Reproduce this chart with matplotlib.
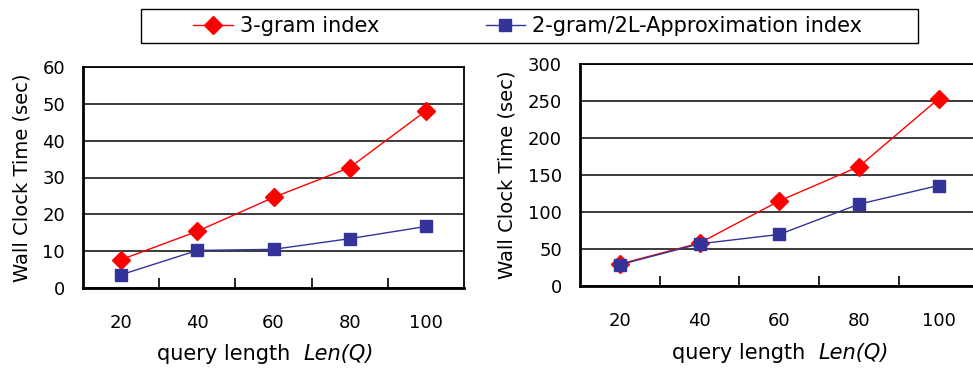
import matplotlib
matplotlib.use("Agg")
import matplotlib.pyplot as plt
import numpy as np
from matplotlib.patches import Rectangle
from matplotlib.offsetbox import TextArea, HPacker, AnchoredOffsetbox

# query lengths (categories)
categories = ["20", "40", "60", "80", "100"]

# left panel
left_3gram = [7.7, 15.4, 24.6, 32.7, 48.1]
left_2gram = [3.6, 10.2, 10.5, 13.4, 16.7]

# right panel
right_3gram = [29.7, 58.0, 115.0, 161.4, 253.0]
right_2gram = [28.8, 57.0, 69.7, 110.6, 135.8]

labels = ["3-gram index", "2-gram/2L-Approximation index"]
red = "#FF0000"
blue = "#333399"

plt.rcParams['font.family'] = ['DejaVu Sans']

W, H = 973, 371
fig = plt.figure(figsize=(W / 100, H / 100), dpi=100)

ax1 = fig.add_axes([83 / W, 1 - 288 / H, 381 / W, 221 / H])
ax2 = fig.add_axes([580 / W, 1 - 286 / H, 398.5 / W, 222 / H])

panels = [(ax1, left_3gram, left_2gram, 60, 10, 0.478),
          (ax2, right_3gram, right_2gram, 300, 50, 0.503)]

x = np.arange(len(categories))
for ax, s1, s2, ymax, step, xl in panels:
    ax.plot(x, s1, color=red, lw=1.0, marker='D', markersize=9,
            markeredgecolor=red, label=labels[0], zorder=3)
    ax.plot(x, s2, color=blue, lw=1.0, marker='s', markersize=8,
            markeredgecolor=blue, label=labels[1], zorder=3)
    ax.set_xlim(-0.5, len(categories) - 0.5)
    ax.set_ylim(0, ymax)
    ax.set_yticks(np.arange(0, ymax + 1, step))
    ax.yaxis.grid(True, color='#1a1a1a', lw=1.2)
    ax.set_axisbelow(True)
    # labels at category centres, tick marks between categories
    ax.set_xticks(x)
    ax.set_xticklabels(categories)
    ax.set_xticks(np.arange(0.5, len(categories) - 1, 1.0), minor=True)
    ax.tick_params(axis='x', which='major', length=0, pad=19, labelsize=13)
    ax.tick_params(axis='x', which='minor', length=7, width=1.2,
                   direction='in', color='black')
    ax.tick_params(axis='y', length=0, pad=13, labelsize=13)
    for sp in ax.spines.values():
        sp.set_color('black')
        sp.set_linewidth(1.3)
    ax.spines['left'].set_linewidth(2)
    ax.spines['bottom'].set_linewidth(2)
    ax.set_ylabel("Wall Clock Time (sec)", fontsize=14, labelpad=8)
    # x label with italic Len(Q)
    box = HPacker(children=[TextArea("query length  ", textprops=dict(fontsize=15)),
                            TextArea("Len(Q)", textprops=dict(fontsize=15, style='italic'))],
                  align='baseline', pad=0, sep=0)
    ab = AnchoredOffsetbox(loc='center', child=box, frameon=False,
                           bbox_to_anchor=(xl, -0.30), bbox_transform=ax.transAxes,
                           borderpad=0, pad=0)
    ax.add_artist(ab)

ax2.spines['right'].set_visible(False)

# legend with its own frame
fig.patches.append(Rectangle((141 / W, 1 - 43 / H), 777 / W, 34 / H,
                             transform=fig.transFigure, fill=False,
                             edgecolor='black', lw=1.0))
h, l = ax1.get_legend_handles_labels()
fig.legend(h, l, loc='center left', ncol=2, frameon=False,
           bbox_to_anchor=(193 / W, 1 - 26 / H),
           fontsize=15, handlelength=1.9, handletextpad=0.35,
           columnspacing=5.1, borderaxespad=0, borderpad=0)

fig.savefig("out.png", dpi=100)
